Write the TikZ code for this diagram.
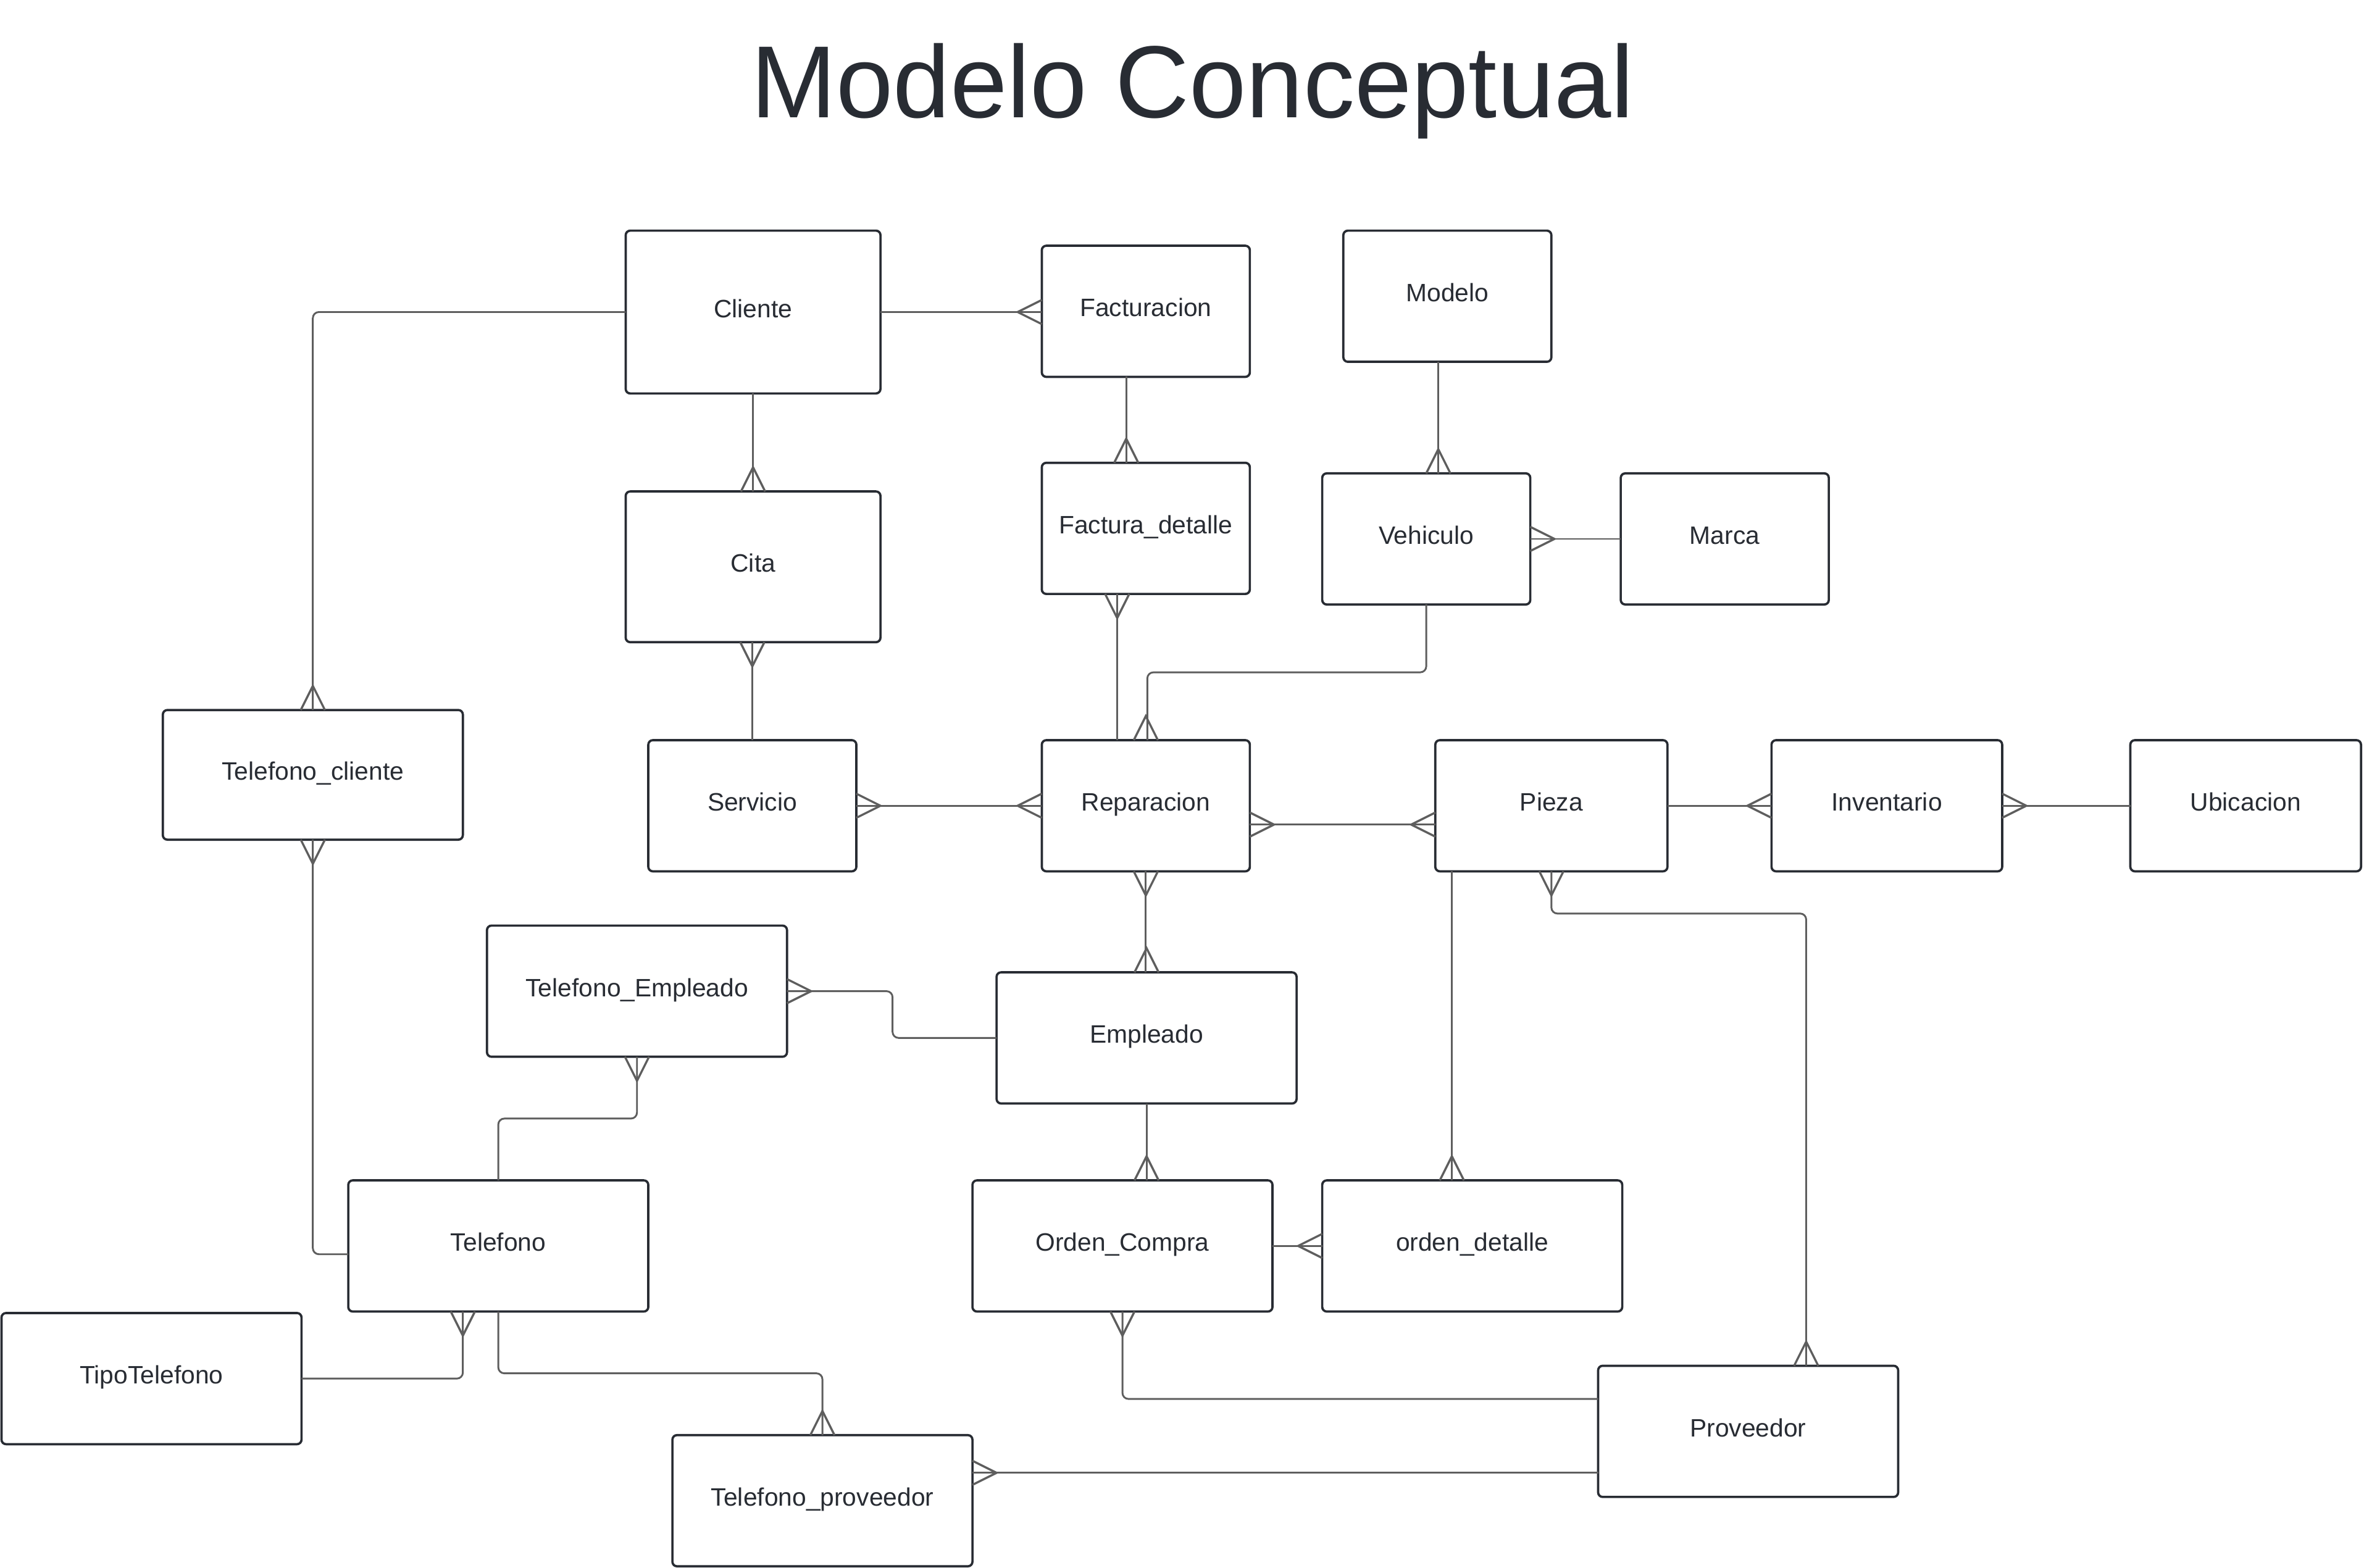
\documentclass[tikz,border=0pt]{standalone}
\usepackage{fontspec}
\setmainfont{Liberation Sans}
\usetikzlibrary{calc}
\definecolor{ink}{HTML}{282C33}
\definecolor{wire}{HTML}{5E5E5E}
\tikzset{
  ent/.style={draw=ink, line width=1.5pt, rounded corners=3pt, fill=white,
    inner sep=0pt, outer sep=0pt, text=ink,
    font=\fontsize{16.7}{20}\selectfont, text height=12pt, text depth=5pt},
  conn/.style={draw=wire, line width=1.2pt, rounded corners=4pt},
  crowline/.style={draw=wire, line width=1.4pt, line join=miter},
}
\newcommand\crowfoot[2]{\draw[crowline, shift={(#1)}, rotate=#2] (0pt,8pt) -- (16pt,0pt) -- (0pt,-8pt);}
\begin{document}
\begin{tikzpicture}[x=1pt,y=-1pt]
\useasboundingbox[fill=white] (0,0) rectangle (1568,1040);
\node[text=ink, font=\fontsize{68}{80}\selectfont, anchor=base] (title) at (791,78) {Modelo Conceptual};

% entities
\node[ent, minimum width=169pt, minimum height=108pt] (cli)   at (499.5,207)   {Cliente};
\node[ent, minimum width=138pt, minimum height=87pt]  (fact)  at (760,206.5)   {Facturacion};
\node[ent, minimum width=138pt, minimum height=87pt]  (mod)   at (960,196.5)   {Modelo};
\node[ent, minimum width=169pt, minimum height=100pt] (cita)  at (499.5,376)   {Cita};
\node[ent, minimum width=138pt, minimum height=87pt]  (fdet)  at (760,350.5)   {Factura\_detalle};
\node[ent, minimum width=138pt, minimum height=87pt]  (veh)   at (946,357.5)   {Vehiculo};
\node[ent, minimum width=138pt, minimum height=87pt]  (marca) at (1144,357.5)  {Marca};
\node[ent, minimum width=199pt, minimum height=86pt]  (telc)  at (207.5,514)   {Telefono\_cliente};
\node[ent, minimum width=138pt, minimum height=87pt]  (serv)  at (499,534.5)   {Servicio};
\node[ent, minimum width=138pt, minimum height=87pt]  (rep)   at (760,534.5)   {Reparacion};
\node[ent, minimum width=154pt, minimum height=87pt]  (pieza) at (1029,534.5)  {Pieza};
\node[ent, minimum width=153pt, minimum height=87pt]  (inv)   at (1251.5,534.5){Inventario};
\node[ent, minimum width=153pt, minimum height=87pt]  (ubi)   at (1489.5,534.5){Ubicacion};
\node[ent, minimum width=199pt, minimum height=87pt]  (tele)  at (422.5,657.5)  {Telefono\_Empleado};
\node[ent, minimum width=199pt, minimum height=87pt]  (emp)   at (760.5,688.5)  {Empleado};
\node[ent, minimum width=199pt, minimum height=87pt]  (tel)   at (330.5,826.5)  {Telefono};
\node[ent, minimum width=199pt, minimum height=87pt]  (oc)    at (744.5,826.5)  {Orden\_Compra};
\node[ent, minimum width=199pt, minimum height=87pt]  (odet)  at (976.5,826.5)  {orden\_detalle};
\node[ent, minimum width=199pt, minimum height=87pt]  (tipo)  at (100.5,914.5)  {TipoTelefono};
\node[ent, minimum width=199pt, minimum height=87pt]  (prov)  at (1159.5,949.5) {Proveedor};
\node[ent, minimum width=199pt, minimum height=87pt]  (telp)  at (545.5,995.5)  {Telefono\_proveedor};

% helper coordinates
\coordinate (c2)  at (cli.east -| fact.west);
\coordinate (c3)  at (cli.south |- cita.north);
\coordinate (c4a) at ([xshift=-13pt]fact.south);
\coordinate (c4b) at (c4a |- fdet.north);
\coordinate (c5a) at ([xshift=-6pt]mod.south);
\coordinate (c5b) at (c5a |- veh.north);
\coordinate (c7)  at (serv.north |- cita.south);
\coordinate (c8a) at ([xshift=-19pt]fdet.south);
\coordinate (c8b) at (c8a |- rep.north);
\coordinate (c11a) at ([yshift=-12.5pt]rep.east);
\coordinate (c11b) at (c11a -| pieza.west);
\coordinate (c15) at ([xshift=38.5pt]prov.north);
\coordinate (c16a) at ([xshift=11pt]pieza.south west);
\coordinate (c16b) at (c16a |- odet.north);
\coordinate (c19) at ([yshift=-5.5pt]tel.west);
\coordinate (c20) at (emp.south |- oc.north);
\coordinate (c22) at ([yshift=21.5pt]prov.west);
\coordinate (c23) at ([xshift=-23.5pt]tel.south);
\coordinate (c25a) at ([yshift=18.5pt]telp.east);
\coordinate (c25b) at (c25a -| prov.west);

% connectors
\draw[conn] (cli.west) -| (telc.north);            \crowfoot{telc.north}{90}
\draw[conn] (cli.east) -- (c2);                    \crowfoot{c2}{180}
\draw[conn] (cli.south) -- (c3);                   \crowfoot{c3}{90}
\draw[conn] (c4a) -- (c4b);                        \crowfoot{c4b}{90}
\draw[conn] (c5a) -- (c5b);                        \crowfoot{c5b}{90}
\draw[conn] (marca.west) -- (veh.east);            \crowfoot{veh.east}{0}
\draw[conn] (serv.north) -- (c7);                  \crowfoot{c7}{270}
\draw[conn] (c8a) -- (c8b);                        \crowfoot{c8a}{270}
\draw[conn] (veh.south) -- ++(0,45) -| ([xshift=1pt]rep.north); \crowfoot{rep.north}{90}
\draw[conn] (serv.east) -- (rep.west);             \crowfoot{serv.east}{0} \crowfoot{rep.west}{180}
\draw[conn] (c11a) -- (c11b);                      \crowfoot{c11a}{0} \crowfoot{c11b}{180}
\draw[conn] (pieza.east) -- (inv.west);            \crowfoot{inv.west}{180}
\draw[conn] (inv.east) -- (ubi.west);              \crowfoot{inv.east}{0}
\draw[conn] (rep.south) -- (rep.south |- emp.north); \crowfoot{rep.south}{270} \crowfoot{emp.north}{90}
\draw[conn] (pieza.south) -- ++(0,28) -| (c15);    \crowfoot{pieza.south}{270} \crowfoot{c15}{90}
\draw[conn] (c16a) -- (c16b);                      \crowfoot{c16b}{90}
\draw[conn] (tele.east) -- ++(70,0) |- (emp.west); \crowfoot{tele.east}{0}
\draw[conn] (tele.south) -- ++(0,41) -| (tel.north); \crowfoot{tele.south}{270}
\draw[conn] (telc.south) |- (c19);                 \crowfoot{telc.south}{270}
\draw[conn] (emp.south) -- (c20);                  \crowfoot{c20}{90}
\draw[conn] (oc.east) -- (odet.west);              \crowfoot{odet.west}{180}
\draw[conn] (oc.south) |- (c22);                   \crowfoot{oc.south}{270}
\draw[conn] (c23) |- (tipo.east);                  \crowfoot{c23}{270}
\draw[conn] (tel.south) -- ++(0,41) -| (telp.north); \crowfoot{telp.north}{90}
\draw[conn] (c25a) -- (c25b);                      \crowfoot{c25a}{0}
\end{tikzpicture}
\end{document}
